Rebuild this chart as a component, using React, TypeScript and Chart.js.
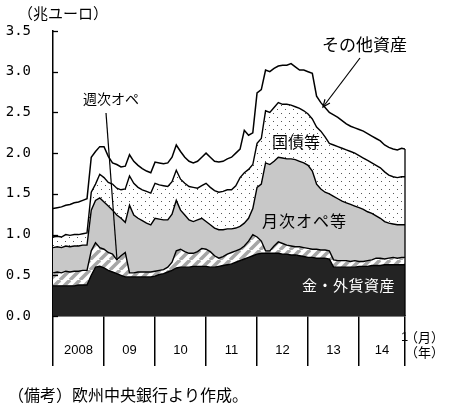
import React, { useEffect, useRef } from 'react';
import { Chart, registerables } from 'chart.js';

Chart.register(...registerables);

// months since Jan 2008 (0 = 2008-01 … 82 = 2014-11, last = end of data)
const MONTHS: number[] = [...Array.from({ length: 83 }, (_, i) => i), 82.8];

// cumulative levels (trillion EUR)
const GOLD = [
  0.37, 0.37, 0.37, 0.37, 0.37, 0.37, 0.38, 0.38, 0.38, 0.50, 0.60, 0.61,
  0.59, 0.56, 0.54, 0.52, 0.50, 0.48, 0.48, 0.48, 0.48, 0.48, 0.48, 0.48,
  0.49, 0.51, 0.52, 0.54, 0.56, 0.59, 0.60, 0.60, 0.60, 0.61, 0.61, 0.61,
  0.61, 0.60, 0.60, 0.61, 0.62, 0.63, 0.64, 0.66, 0.68, 0.70, 0.72, 0.74,
  0.76, 0.77, 0.77, 0.77, 0.77, 0.77, 0.76, 0.76, 0.75, 0.75, 0.74, 0.73,
  0.72, 0.72, 0.71, 0.71, 0.71, 0.70, 0.60, 0.60, 0.60, 0.60, 0.60, 0.60,
  0.61, 0.61, 0.61, 0.62, 0.62, 0.62, 0.63, 0.63, 0.63, 0.63, 0.63, 0.63,
];
const WEEKLY = [
  0.53, 0.54, 0.53, 0.55, 0.54, 0.55, 0.55, 0.56, 0.56, 0.80, 0.90, 0.84,
  0.82, 0.78, 0.76, 0.69, 0.74, 0.78, 0.53, 0.53, 0.54, 0.54, 0.54, 0.54,
  0.55, 0.56, 0.57, 0.60, 0.66, 0.80, 0.82, 0.79, 0.77, 0.77, 0.79, 0.83,
  0.82, 0.79, 0.74, 0.71, 0.73, 0.76, 0.78, 0.80, 0.82, 0.86, 0.92, 1.00,
  0.97, 0.92, 0.80, 0.80, 0.86, 0.91, 0.89, 0.87, 0.86, 0.85, 0.85, 0.84,
  0.83, 0.82, 0.82, 0.81, 0.81, 0.80, 0.69, 0.68, 0.68, 0.68, 0.67, 0.68,
  0.67, 0.67, 0.68, 0.69, 0.71, 0.71, 0.70, 0.71, 0.72, 0.71, 0.72, 0.72,
];
const MONTHLY = [
  0.84, 0.85, 0.84, 0.86, 0.85, 0.86, 0.86, 0.87, 0.87, 1.30, 1.42, 1.45,
  1.40, 1.35, 1.30, 1.24, 1.20, 1.15, 1.36, 1.24, 1.20, 1.17, 1.14, 1.12,
  1.20, 1.19, 1.18, 1.18, 1.25, 1.42, 1.30, 1.24, 1.18, 1.16, 1.18, 1.20,
  1.16, 1.12, 1.08, 1.06, 1.06, 1.07, 1.07, 1.08, 1.10, 1.14, 1.20, 1.32,
  1.58, 1.62, 1.88, 1.86, 1.90, 1.95, 1.94, 1.93, 1.93, 1.92, 1.90, 1.88,
  1.85, 1.78, 1.62, 1.56, 1.52, 1.50, 1.47, 1.44, 1.41, 1.39, 1.37, 1.35,
  1.33, 1.31, 1.28, 1.26, 1.23, 1.20, 1.16, 1.14, 1.13, 1.12, 1.12, 1.12,
];
const BONDS = [
  0.97, 0.98, 0.97, 1.00, 0.99, 1.00, 1.00, 1.01, 1.02, 1.52, 1.62, 1.74,
  1.70, 1.64, 1.62, 1.57, 1.55, 1.56, 1.72, 1.63, 1.58, 1.55, 1.53, 1.51,
  1.63, 1.61, 1.60, 1.59, 1.65, 1.79, 1.68, 1.63, 1.59, 1.58, 1.57, 1.60,
  1.63, 1.58, 1.54, 1.52, 1.53, 1.55, 1.55, 1.60, 1.70, 1.76, 1.80, 1.86,
  2.12, 2.18, 2.52, 2.50, 2.56, 2.62, 2.60, 2.60, 2.59, 2.57, 2.55, 2.52,
  2.48, 2.42, 2.32, 2.27, 2.20, 2.12, 2.10, 2.08, 2.06, 2.04, 2.02, 2.00,
  1.97, 1.94, 1.91, 1.88, 1.85, 1.82, 1.77, 1.73, 1.71, 1.70, 1.71, 1.71,
];
const OTHER = [
  1.32, 1.33, 1.34, 1.36, 1.37, 1.39, 1.40, 1.42, 1.44, 1.95, 2.02, 2.08,
  2.08, 1.96, 1.88, 1.86, 1.83, 1.84, 1.98, 1.90, 1.85, 1.81, 1.78, 1.76,
  1.89, 1.88, 1.87, 1.88, 1.95, 2.10, 2.02, 1.95, 1.90, 1.88, 1.90, 1.95,
  2.00, 1.95, 1.90, 1.89, 1.90, 1.93, 1.95, 2.00, 2.05, 2.28, 2.22, 2.25,
  2.74, 2.78, 3.02, 3.00, 3.04, 3.07, 3.08, 3.08, 3.10, 3.06, 3.02, 3.02,
  3.00, 2.98, 2.70, 2.62, 2.56, 2.50, 2.47, 2.44, 2.40, 2.36, 2.33, 2.31,
  2.29, 2.27, 2.24, 2.21, 2.18, 2.15, 2.10, 2.07, 2.05, 2.04, 2.06, 2.05,
];

const YEAR_LABELS = ['2008', '09', '10', '11', '12', '13', '14'];
const YEAR_LABEL_POS = [6, 18, 30, 42, 54, 66, 77.4];
const YEAR_BOUNDS = [0, 12, 24, 36, 48, 60, 72, 82.8];

const JP = '"Noto Sans CJK JP", sans-serif';

function pts(vals: number[]) {
  return MONTHS.map((m, i) => ({ x: m, y: vals[i] }));
}

function makeDots(): CanvasPattern {
  const c = document.createElement('canvas');
  c.width = 8; c.height = 8;
  const g = c.getContext('2d')!;
  g.fillStyle = '#ffffff'; g.fillRect(0, 0, 8, 8);
  g.fillStyle = '#555555';
  g.fillRect(1, 1, 1, 1); g.fillRect(5, 5, 1, 1);
  return g.createPattern(c, 'repeat')!;
}

function makeHatch(): CanvasPattern {
  const c = document.createElement('canvas');
  c.width = 10; c.height = 10;
  const g = c.getContext('2d')!;
  g.fillStyle = '#ffffff'; g.fillRect(0, 0, 10, 10);
  g.strokeStyle = '#a6a6a6'; g.lineWidth = 3.5;
  for (const k of [-10, 0, 10]) {
    g.beginPath(); g.moveTo(k, 10); g.lineTo(k + 10, 0); g.stroke();
  }
  return g.createPattern(c, 'repeat')!;
}

const overlay = {
  id: 'overlay',
  afterDraw(chart: any) {
    const ctx: CanvasRenderingContext2D = chart.ctx;
    const xs = chart.scales.x;
    const ys = chart.scales.y;
    const left = chart.chartArea.left;
    ctx.save();
    ctx.strokeStyle = '#000';
    ctx.lineWidth = 1.3;
    // inward y ticks
    for (const t of ys.ticks) {
      const py = Math.round(ys.getPixelForValue(t.value)) + 0.5;
      ctx.beginPath(); ctx.moveTo(left, py); ctx.lineTo(left + 5, py); ctx.stroke();
    }
    // right edge of the stacked area
    const last = MONTHS.length - 1;
    const xe = xs.getPixelForValue(MONTHS[last]);
    ctx.beginPath();
    ctx.moveTo(xe, ys.getPixelForValue(0));
    ctx.lineTo(xe, ys.getPixelForValue(OTHER[last]));
    ctx.stroke();

    // leader for 週次オペ
    ctx.lineWidth = 1.2;
    ctx.beginPath(); ctx.moveTo(106, 113); ctx.lineTo(117, 260); ctx.stroke();
    // arrow for その他資産
    const ax0 = 360, ay0 = 58, ax1 = 323, ay1 = 107;
    ctx.beginPath(); ctx.moveTo(ax0, ay0); ctx.lineTo(ax1, ay1); ctx.stroke();
    const ang = Math.atan2(ay1 - ay0, ax1 - ax0);
    const hl = 8, ha = 0.4;
    ctx.beginPath();
    ctx.moveTo(ax1 - hl * Math.cos(ang - ha), ay1 - hl * Math.sin(ang - ha));
    ctx.lineTo(ax1, ay1);
    ctx.lineTo(ax1 - hl * Math.cos(ang + ha), ay1 - hl * Math.sin(ang + ha));
    ctx.stroke();

    const text = (s: string, x: number, y: number, font: string, color = '#000', spacing = 0) => {
      ctx.font = font;
      ctx.fillStyle = color;
      ctx.textAlign = 'left';
      ctx.textBaseline = 'middle';
      (ctx as any).letterSpacing = spacing + 'px';
      ctx.fillText(s, x, y);
      (ctx as any).letterSpacing = '0px';
    };
    text('（兆ユーロ）', 18, 13, `15px ${JP}`);
    text('その他資産', 322, 45, `17px ${JP}`);
    text('週次オペ', 83, 99, `14px ${JP}`);
    text('国債等', 272, 142, `16px ${JP}`);
    text('月次オペ等', 262, 221, `16px ${JP}`, '#000', 1);
    text('金・外貨資産', 302, 285, `15px ${JP}`, '#fff', 0.5);
    text('1', 401, 337, '13px "Liberation Sans", sans-serif');
    text('（月）', 405, 337, `13px ${JP}`);
    text('（年）', 405, 352, `13px ${JP}`);
    text('（備考）欧州中央銀行より作成。', 8, 395, `16px ${JP}`);
    ctx.restore();
  },
};

export default function App() {
  const ref = useRef<HTMLCanvasElement | null>(null);
  useEffect(() => {
    if (!ref.current) return;
    const hatch = makeHatch();
    const dots = makeDots();
    const common = { pointRadius: 0, tension: 0, borderColor: '#000', borderWidth: 1.4 };
    const chart = new Chart(ref.current, {
      type: 'line',
      data: {
        datasets: [
          { ...common, label: '金・外貨資産', data: pts(GOLD), backgroundColor: '#232323', fill: 'origin' },
          { ...common, label: '週次オペ', data: pts(WEEKLY), backgroundColor: hatch, fill: '-1' },
          { ...common, label: '月次オペ等', data: pts(MONTHLY), backgroundColor: '#c8c8c8', fill: '-1' },
          { ...common, label: '国債等', data: pts(BONDS), backgroundColor: dots, fill: '-1' },
          { ...common, label: 'その他資産', data: pts(OTHER), fill: false, borderWidth: 1.5 },
        ],
      } as any,
      options: {
        animation: false,
        responsive: false,
        devicePixelRatio: 1,
        layout: { padding: { left: 0, top: 31, right: 46, bottom: 41 } },
        plugins: { legend: { display: false }, tooltip: { enabled: false } },
        scales: {
          x: {
            type: 'linear',
            min: 0,
            max: 82.8,
            afterBuildTicks: (s: any) => {
              const vals = [...YEAR_BOUNDS, ...YEAR_LABEL_POS].sort((a, b) => a - b);
              s.ticks = vals.map((v) => ({ value: v }));
            },
            afterFit: (s: any) => { s.height = 50; },
            grid: {
              display: true,
              drawOnChartArea: false,
              drawTicks: true,
              tickLength: 50,
              lineWidth: 1.5,
              color: (c: any) => (c.tick && YEAR_BOUNDS.includes(c.tick.value) ? '#000' : 'rgba(0,0,0,0)'),
            },
            border: { display: true, color: '#000', width: 1.5 },
            ticks: {
              autoSkip: false,
              maxRotation: 0,
              padding: -23,
              color: '#000',
              font: { family: '"Liberation Sans", Arial, sans-serif', size: 13 },
              callback: (v: any) => {
                const i = YEAR_LABEL_POS.indexOf(Number(v));
                return i >= 0 ? YEAR_LABELS[i] : '';
              },
            },
          },
          y: {
            min: 0,
            max: 3.5,
            afterFit: (s: any) => { s.width = 53; },
            grid: { display: false, drawTicks: false },
            border: { display: true, color: '#000', width: 1.5 },
            ticks: {
              stepSize: 0.5,
              padding: 22,
              color: '#000',
              font: { family: '"DejaVu Sans Mono", monospace', size: 14 },
              callback: (v: any) => Number(v).toFixed(1),
            },
          },
        },
      } as any,
      plugins: [overlay],
    });
    return () => chart.destroy();
  }, []);
  return (
    <div style={{ position: 'absolute', left: 0, top: 0, width: 451, height: 407, background: '#fff' }}>
      <canvas ref={ref} width={451} height={407} style={{ display: 'block', width: 451, height: 407 }} />
    </div>
  );
}
